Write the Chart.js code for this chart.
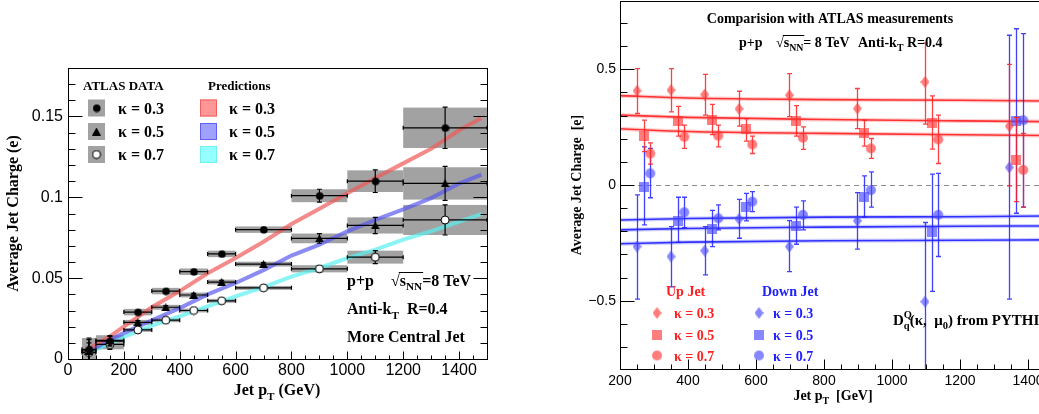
<!DOCTYPE html>
<html>
<head>
<meta charset="utf-8">
<script src="https://cdn.jsdelivr.net/npm/chart.js@4.4.1/dist/chart.umd.min.js"></script>
<style>
  html, body { margin: 0; padding: 0; background: #fff; overflow: hidden; width: 1039px; height: 414px; }
  #c1 { position: absolute; left: 0; top: 0; }
  #c2 { position: absolute; left: 560px; top: 0; }
</style>
</head>
<body>
<canvas id="c1" width="520" height="414"></canvas>
<canvas id="c2" width="500" height="414"></canvas>
<script>
// ---------- left panel: ATLAS data vs predictions ----------
const BIN_LO    = [50, 100, 200, 300, 400, 500, 600, 800, 1000, 1200];
const BIN_HI    = [100, 200, 300, 400, 500, 600, 800, 1000, 1200, 1500];
const PT_CENTER = [75, 150, 250, 350, 450, 550, 700, 900, 1100, 1350];

const K03      = [0.006, 0.011, 0.029, 0.042, 0.054, 0.065, 0.080, 0.101, 0.110, 0.143];
const K03_STAT = [0.007, 0.003, 0.001, 0.001, 0.001, 0.001, 0.001, 0.004, 0.007, 0.0128];
const K03_SYS  = [0.007, 0.0036, 0.002, 0.002, 0.002, 0.002, 0.002, 0.004, 0.0067, 0.0125];

const K05      = [0.005, 0.0115, 0.0227, 0.032, 0.0396, 0.0476, 0.0587, 0.0746, 0.0826, 0.1086];
const K05_STAT = [0.007, 0.003, 0.001, 0.001, 0.001, 0.001, 0.001, 0.003, 0.005, 0.0105];
const K05_SYS  = [0.006, 0.003, 0.0015, 0.0015, 0.0015, 0.0015, 0.0015, 0.003, 0.005, 0.010];

const K07      = [0.004, 0.009, 0.018, 0.024, 0.030, 0.036, 0.044, 0.0558, 0.063, 0.086];
const K07_STAT = [0.006, 0.003, 0.001, 0.001, 0.001, 0.001, 0.001, 0.002, 0.004, 0.0093];
const K07_SYS  = [0.005, 0.003, 0.0012, 0.0012, 0.0012, 0.0012, 0.0012, 0.0022, 0.004, 0.0093];

const PRED_PT  = [60, 100, 150, 200, 300, 400, 500, 600, 700, 800, 900, 1000, 1100, 1200, 1300, 1400, 1480];
const PRED_K03 = [0.004, 0.009, 0.014, 0.020, 0.032, 0.042, 0.053, 0.0625, 0.0725, 0.0835, 0.093, 0.1025, 0.112, 0.121, 0.130, 0.1415, 0.149];
const PRED_K05 = [0.004, 0.007, 0.012, 0.016, 0.024, 0.0315, 0.040, 0.047, 0.055, 0.064, 0.0707, 0.079, 0.086, 0.0925, 0.0995, 0.1085, 0.114];
const PRED_K07 = [0.004, 0.006, 0.0095, 0.0136, 0.0206, 0.0264, 0.0326, 0.0387, 0.0445, 0.051, 0.0563, 0.0624, 0.0676, 0.0738, 0.079, 0.085, 0.0896];

const X_TICKS_L  = [0, 200, 400, 600, 800, 1000, 1200, 1400];
const Y_TICKS_L  = [0, 0.05, 0.1, 0.15];
const Y_LABELS_L = ["0", "0.05", "0.1", "0.15"];

// ---------- right panel: up / down jet charge ----------
const R_PT_K03 = [250, 350, 449, 550, 698, 898, 1097, 1345];
const R_PT_K05 = [270, 370, 470, 570, 719, 918, 1117, 1366];
const R_PT_K07 = [289, 389, 489, 589, 738, 938, 1136, 1386];

const UP_K03    = [0.407, 0.41, 0.391, 0.329, 0.388, 0.33, 0.445, 0.254];
const UP_K03_HI = [0.503, 0.503, 0.478, 0.405, 0.481, 0.417, 0.613, 0.521];
const UP_K03_LO = [0.309, 0.316, 0.302, 0.254, 0.295, 0.244, 0.263, -0.004];
const UP_K05    = [0.213, 0.276, 0.283, 0.241, 0.277, 0.226, 0.269, 0.108];
const UP_K05_HI = [0.28, 0.34, 0.348, 0.287, 0.343, 0.28, 0.385, 0.292];
const UP_K05_LO = [0.144, 0.211, 0.218, 0.19, 0.211, 0.168, 0.155, -0.072];
const UP_K07    = [0.136, 0.208, 0.213, 0.175, 0.204, 0.158, 0.197, 0.065];
const UP_K07_HI = [0.182, 0.259, 0.259, 0.211, 0.251, 0.201, 0.302, 0.223];
const UP_K07_LO = [0.09, 0.158, 0.165, 0.136, 0.154, 0.115, 0.093, -0.096];

const DN_K03    = [-0.266, -0.309, -0.284, -0.147, -0.266, -0.155, -0.504, 0.076];
const DN_K03_HI = [-0.043, -0.18, -0.18, -0.062, -0.154, -0.033, -0.162, 0.647];
const DN_K03_LO = [-0.493, -0.44, -0.388, -0.23, -0.374, -0.277, -0.82, -0.493];
const DN_K05    = [-0.007, -0.154, -0.191, -0.096, -0.175, -0.05, -0.204, 0.277];
const DN_K05_HI = [0.165, -0.053, -0.11, -0.036, -0.096, 0.039, 0.047, 0.675];
const DN_K05_LO = [-0.172, -0.248, -0.266, -0.155, -0.256, -0.139, -0.46, -0.122];
const DN_K07    = [0.05, -0.118, -0.144, -0.072, -0.129, -0.022, -0.129, 0.28];
const DN_K07_HI = [0.158, -0.053, -0.086, -0.029, -0.069, 0.057, 0.05, 0.654];
const DN_K07_LO = [-0.055, -0.184, -0.194, -0.115, -0.194, -0.096, -0.309, -0.096];

const R_LINE_PT = [200, 400, 800, 1200, 1450];
const UP_L1 = [0.386, 0.376, 0.369, 0.366, 0.363];
const UP_L2 = [0.302, 0.292, 0.283, 0.277, 0.274];
const UP_L3 = [0.243, 0.231, 0.223, 0.217, 0.214];
const DN_L1 = [-0.151, -0.145, -0.139, -0.137, -0.134];
const DN_L2 = [-0.194, -0.188, -0.182, -0.178, -0.177];
const DN_L3 = [-0.254, -0.247, -0.241, -0.239, -0.237];

const X_TICKS_R  = [200, 400, 600, 800, 1000, 1200, 1400];
const Y_TICKS_R  = [-0.5, 0, 0.5];
const Y_LABELS_R = ["\u22120.5", "0", "0.5"];

const SERIF = '"Liberation Serif", "Times New Roman", serif';
const SANS  = '"Liberation Sans", Arial, sans-serif';

const RED_M  = "rgba(255,55,55,0.65)";
const BLUE_M = "rgba(70,70,255,0.65)";
const RED_E  = "rgba(255,30,30,0.85)";
const BLUE_E = "rgba(30,30,255,0.85)";

// ---------- marker images ----------
function img(w, h, draw) {
  const c = document.createElement("canvas");
  c.width = w; c.height = h;
  draw(c.getContext("2d"), w, h);
  return c;
}
const dot = (fill, stroke, r) => img(2 * r + 2, 2 * r + 2, (g, w, h) => {
  g.beginPath(); g.arc(w / 2, h / 2, r, 0, Math.PI * 2);
  if (fill) { g.fillStyle = fill; g.fill(); }
  if (stroke) { g.strokeStyle = stroke; g.lineWidth = 1; g.stroke(); }
});
const tri = (fill, w0, h0) => img(w0, h0, (g, w, h) => {
  g.fillStyle = fill; g.beginPath();
  g.moveTo(w / 2, 0); g.lineTo(w, h); g.lineTo(0, h); g.closePath(); g.fill();
});
const diam = (fill, w0, h0) => img(w0, h0, (g, w, h) => {
  g.fillStyle = fill; g.beginPath();
  g.moveTo(w / 2, 0); g.lineTo(w, h / 2); g.lineTo(w / 2, h); g.lineTo(0, h / 2); g.closePath(); g.fill();
});
const sq = (fill, s) => img(s, s, (g, w, h) => { g.fillStyle = fill; g.fillRect(0, 0, w, h); });

const M_K03 = dot("#000", null, 3.8);
const M_K05 = tri("#000", 9, 8);
const M_K07 = dot("#fff", "#000", 4);
const UP_D = diam(RED_M, 9, 12),  UP_S = sq(RED_M, 10),  UP_C = dot(RED_M, null, 5);
const DN_D = diam(BLUE_M, 9, 12), DN_S = sq(BLUE_M, 10), DN_C = dot(BLUE_M, null, 5);

// ---------- text with sub / superscripts ----------
function rich(ctx, x, y, parts, size, color, align) {
  const setF = (s) => { ctx.font = `bold ${s}px ${SERIF}`; };
  const items = parts.map((p) => {
    const s = p.sub || p.sup ? size * 0.7 : size;
    setF(s);
    return Object.assign({}, p, { s, w: ctx.measureText(p.t).width });
  });
  const total = items.reduce((a, p) => a + (p.stack ? 0 : p.w), 0);
  let cx = align === "center" ? x - total / 2 : x;
  ctx.save();
  ctx.fillStyle = color; ctx.strokeStyle = color;
  ctx.textAlign = "left"; ctx.textBaseline = "alphabetic";
  let olA = null, olB = null;
  for (const p of items) {
    setF(p.s);
    const dy = p.sub ? size * 0.3 : p.sup ? -size * 0.42 : 0;
    if (p.ol) { if (olA === null) olA = cx; olB = cx + p.w; }
    ctx.fillText(p.t, cx, y + dy);
    if (!p.stack) cx += p.w;
  }
  if (olA !== null) {
    ctx.lineWidth = 1;
    ctx.beginPath();
    ctx.moveTo(olA - 1, Math.round(y - size * 0.82) + 0.5);
    ctx.lineTo(olB + 1, Math.round(y - size * 0.82) + 0.5);
    ctx.stroke();
  }
  ctx.restore();
}

// ---------- frame with inner ticks ----------
const framePlugin = {
  id: "frame",
  afterDatasetsDraw(chart, args, o) {
    const { ctx, chartArea: a, scales: { x, y } } = chart;
    const L = Math.round(a.left) + 0.5, R = Math.round(a.right) + 0.5;
    const T = Math.round(a.top) + 0.5, B = Math.round(a.bottom) + 0.5;
    ctx.save();
    ctx.strokeStyle = "#000"; ctx.lineWidth = 1;
    ctx.strokeRect(L, T, R - L, B - T);
    ctx.beginPath();
    const isMajor = (v, m) => Math.abs(v / m - Math.round(v / m)) < 1e-6;
    for (let v = o.x[0]; v <= o.x[1] + 1e-9; v += o.x[3]) {
      const px = Math.round(x.getPixelForValue(v)) + 0.5;
      const len = isMajor(v, o.x[2]) ? o.xLen[0] : o.xLen[1];
      ctx.moveTo(px, B); ctx.lineTo(px, B - len);
    }
    for (let v = o.y[0]; v <= o.y[1] + 1e-9; v += o.y[3]) {
      const py = Math.round(y.getPixelForValue(v)) + 0.5;
      const len = isMajor(v, o.y[2]) ? o.yLen[0] : o.yLen[1];
      ctx.moveTo(L, py); ctx.lineTo(L + len, py);
      if (o.right) { ctx.moveTo(R, py); ctx.lineTo(R - len, py); }
    }
    ctx.stroke();
    ctx.restore();
  },
};

// ---------- left panel decorations ----------
const leftPlugin = {
  id: "leftDecor",
  beforeDatasetsDraw(chart) {
    const { ctx, chartArea: a, scales: { x, y } } = chart;
    ctx.save();
    ctx.beginPath(); ctx.rect(a.left, a.top, a.right - a.left, a.bottom - a.top); ctx.clip();
    ctx.fillStyle = "#a2a2a2";
    [[K03, K03_SYS], [K05, K05_SYS], [K07, K07_SYS]].forEach(([vals, sys]) => {
      vals.forEach((v, i) => {
        const x0 = x.getPixelForValue(BIN_LO[i]), x1 = x.getPixelForValue(BIN_HI[i]);
        const y0 = y.getPixelForValue(v + sys[i]), y1 = y.getPixelForValue(v - sys[i]);
        ctx.fillRect(x0, y0, x1 - x0, y1 - y0);
      });
    });
    ctx.restore();
  },
  beforeDatasetDraw(chart, args) {
    const ds = chart.data.datasets[args.index];
    if (!ds.stat) return;
    const { ctx, chartArea: a, scales: { x, y } } = chart;
    ctx.save();
    ctx.beginPath(); ctx.rect(a.left, a.top, a.right - a.left, a.bottom - a.top); ctx.clip();
    ctx.strokeStyle = "#000"; ctx.lineWidth = 1.2;
    ctx.beginPath();
    ds.data.forEach((p, i) => {
      const py = y.getPixelForValue(p.y), px = x.getPixelForValue(p.x);
      const x0 = x.getPixelForValue(BIN_LO[i]), x1 = x.getPixelForValue(BIN_HI[i]);
      ctx.moveTo(x0, py); ctx.lineTo(x1, py);
      ctx.moveTo(x0, py - 2); ctx.lineTo(x0, py + 2);
      ctx.moveTo(x1, py - 2); ctx.lineTo(x1, py + 2);
      const ya = y.getPixelForValue(p.y + ds.stat[i]), yb = y.getPixelForValue(p.y - ds.stat[i]);
      ctx.moveTo(px, ya); ctx.lineTo(px, yb);
      ctx.moveTo(px - 2.5, ya); ctx.lineTo(px + 2.5, ya);
      ctx.moveTo(px - 2.5, yb); ctx.lineTo(px + 2.5, yb);
    });
    ctx.stroke();
    ctx.restore();
  },
  afterDraw(chart) {
    const { ctx } = chart;
    // legend
    rich(ctx, 83, 89.5, [{ t: "ATLAS DATA" }], 13, "#000");
    rich(ctx, 208, 89.5, [{ t: "Predictions" }], 13, "#000");
    const rowsY = [108, 131.5, 154.5];
    const kappa = ["\u03ba = 0.3", "\u03ba = 0.5", "\u03ba = 0.7"];
    const marks = [M_K03, M_K05, M_K07];
    const fills = ["rgba(255,150,150,1)", "rgba(160,160,255,1)", "rgba(150,255,255,1)"];
    const edges = ["#f06060", "#6060f0", "#70f0f0"];
    rowsY.forEach((cy, i) => {
      ctx.fillStyle = "#a2a2a2";
      ctx.fillRect(88, cy - 8.5, 17, 17);
      ctx.drawImage(marks[i], 96.5 - marks[i].width / 2, cy - marks[i].height / 2);
      rich(ctx, 118, cy + 5.5, [{ t: kappa[i] }], 16, "#000");
      ctx.fillStyle = fills[i]; ctx.strokeStyle = edges[i]; ctx.lineWidth = 1;
      ctx.fillRect(200, cy - 8.5, 17, 17);
      ctx.strokeRect(200.5, cy - 8, 16, 16);
      rich(ctx, 229, cy + 5.5, [{ t: kappa[i] }], 16, "#000");
    });
    // annotations
    rich(ctx, 347, 285.5, [{ t: "p+p" }], 16, "#000");
    rich(ctx, 391, 285.5, [{ t: "\u221a" }, { t: "s", ol: true }, { t: "NN", sub: true, ol: true }, { t: "=8 TeV" }], 16, "#000");
    rich(ctx, 347, 314, [{ t: "Anti-k" }, { t: "T", sub: true }, { t: "  R=0.4" }], 16, "#000");
    rich(ctx, 347, 342, [{ t: "More Central Jet" }], 16, "#000");
    // x-axis title
    rich(ctx, 277, 395, [{ t: "Jet p" }, { t: "T", sub: true }, { t: " (GeV)" }], 16, "#000", "center");
  },
};

// ---------- right panel decorations ----------
const rightPlugin = {
  id: "rightDecor",
  beforeDatasetsDraw(chart) {
    const { ctx, chartArea: a, scales: { x, y } } = chart;
    const py = Math.round(y.getPixelForValue(0)) + 0.5;
    ctx.save();
    ctx.strokeStyle = "#8a8a8a"; ctx.lineWidth = 1; ctx.setLineDash([5, 4]);
    ctx.beginPath(); ctx.moveTo(a.left, py); ctx.lineTo(a.right, py); ctx.stroke();
    ctx.restore();
  },
  beforeDatasetDraw(chart, args) {
    const ds = chart.data.datasets[args.index];
    if (!ds.hi) return;
    const { ctx, chartArea: a, scales: { x, y } } = chart;
    ctx.save();
    ctx.beginPath(); ctx.rect(a.left, a.top, a.right - a.left, a.bottom - a.top); ctx.clip();
    ctx.strokeStyle = ds.errColor; ctx.lineWidth = 1.3;
    ctx.beginPath();
    ds.data.forEach((p, i) => {
      const px = Math.round(x.getPixelForValue(p.x)) + 0.5;
      const ya = y.getPixelForValue(ds.hi[i]), yb = y.getPixelForValue(ds.lo[i]);
      ctx.moveTo(px, ya); ctx.lineTo(px, yb);
      ctx.moveTo(px - 2.5, ya); ctx.lineTo(px + 2.5, ya);
      ctx.moveTo(px - 2.5, yb); ctx.lineTo(px + 2.5, yb);
    });
    ctx.stroke();
    ctx.restore();
  },
  afterDraw(chart) {
    const { ctx } = chart;
    const ox = -560; // page -> canvas
    rich(ctx, 830 + ox, 23, [{ t: "Comparision with ATLAS measurements" }], 14, "#000", "center");
    rich(ctx, 739 + ox, 46.5, [{ t: "p+p" }], 14, "#000");
    rich(ctx, 776 + ox, 46.5, [{ t: "\u221a" }, { t: "s", ol: true }, { t: "NN", sub: true, ol: true }, { t: "= 8 TeV" }], 14, "#000");
    rich(ctx, 858 + ox, 46.5, [{ t: "Anti-k" }, { t: "T", sub: true }, { t: " R=0.4" }], 14, "#000");

    const red = "#ff2020", blue = "#2020ff";
    rich(ctx, 666 + ox, 295.5, [{ t: "Up Jet" }], 14, red);
    rich(ctx, 762 + ox, 295.5, [{ t: "Down Jet" }], 14, blue);
    const rowsY = [313, 334.5, 355.5];
    const kappa = ["\u03ba = 0.3", "\u03ba = 0.5", "\u03ba = 0.7"];
    const upM = [UP_D, UP_S, UP_C], dnM = [DN_D, DN_S, DN_C];
    rowsY.forEach((cy, i) => {
      ctx.drawImage(upM[i], 657 + ox - upM[i].width / 2, cy - upM[i].height / 2);
      rich(ctx, 674 + ox, cy + 5, [{ t: kappa[i] }], 14, red);
      ctx.drawImage(dnM[i], 759 + ox - dnM[i].width / 2, cy - dnM[i].height / 2);
      rich(ctx, 773 + ox, cy + 5, [{ t: kappa[i] }], 14, blue);
    });
    rich(ctx, 893 + ox, 324.5, [
      { t: "D" }, { t: "Q", sup: true, stack: true }, { t: "q", sub: true },
      { t: "(\u03ba,  \u03bc" }, { t: "0", sub: true }, { t: ") from PYTHIA" },
    ], 15, "#000");
    rich(ctx, 833 + ox, 400, [{ t: "Jet p" }, { t: "T", sub: true }, { t: "  [GeV]" }], 14, "#000", "center");
  },
};

function axisCommon(size) {
  return {
    type: "linear",
    grid: { display: false, drawTicks: false },
    border: { display: false },
    ticks: { font: { family: SANS, size }, color: "#000", autoSkip: false, maxRotation: 0 },
  };
}
const toPts = (xs, ys) => xs.map((x, i) => ({ x, y: ys[i] }));
// pin axis boxes so the plot frame lands where the reference has it
const fixH = (h) => (s) => { s.height = h; s.paddingLeft = 0; s.paddingRight = 0; };
const fixW = (w) => (s) => { s.width = w; s.paddingTop = 0; s.paddingBottom = 0; };

// ---------- left chart ----------
const predLine = (vals, color) => ({
  type: "line", data: toPts(PRED_PT, vals), borderColor: color, borderWidth: 4,
  pointRadius: 0, fill: false, order: 3,
});
const dataPts = (vals, stat, style) => ({
  type: "scatter", data: toPts(PT_CENTER, vals), stat, pointStyle: style,
  pointRadius: 4, order: 1, clip: false,
});

const lx = axisCommon(16), ly = axisCommon(16);
new Chart(document.getElementById("c1"), {
  type: "scatter",
  data: {
    datasets: [
      predLine(PRED_K03, "rgba(240,90,90,0.7)"),
      predLine(PRED_K05, "rgba(90,90,240,0.7)"),
      predLine(PRED_K07, "rgba(90,240,240,0.7)"),
      dataPts(K03, K03_STAT, M_K03),
      dataPts(K05, K05_STAT, M_K05),
      dataPts(K07, K07_STAT, M_K07),
    ],
  },
  options: {
    responsive: false, animation: false, events: [],
    layout: { autoPadding: false, padding: { left: 0, top: 68, right: 33, bottom: 0 } },
    plugins: {
      legend: { display: false }, tooltip: { enabled: false },
      frame: { x: [0, 1500, 200, 50], y: [0, 0.18, 0.05, 0.01], xLen: [8, 4], yLen: [14, 7], right: true },
    },
    scales: {
      x: Object.assign(lx, {
        min: 0, max: 1500,
        afterFit: fixH(55),
        afterBuildTicks: (s) => { s.ticks = X_TICKS_L.map((v) => ({ value: v })); },
        ticks: Object.assign(lx.ticks, { padding: 2, callback: (v) => String(v) }),
      }),
      y: Object.assign(ly, {
        min: 0, max: 0.18,
        afterFit: fixW(68),
        afterBuildTicks: (s) => { s.ticks = Y_TICKS_L.map((v) => ({ value: v })); },
        ticks: Object.assign(ly.ticks, { padding: 5, callback: (v) => Y_LABELS_L[Y_TICKS_L.indexOf(v)] }),
        title: {
          display: true, text: "Average Jet Charge (e)", color: "#000",
          font: { family: SERIF, size: 16, weight: "bold" }, padding: { top: 4, bottom: 0 },
        },
      }),
    },
  },
  plugins: [leftPlugin, framePlugin],
});

// ---------- right chart ----------
const fitLine = (vals, color, width) => ({
  type: "line", data: toPts(R_LINE_PT, vals), borderColor: color, borderWidth: width,
  pointRadius: 0, fill: false, cubicInterpolationMode: "monotone", order: 3,
});
const upDn = (xs, vals, hi, lo, style, errColor) => ({
  type: "scatter", data: toPts(xs, vals), hi, lo, errColor, pointStyle: style,
  pointRadius: 5, order: 1,
});

const rx = axisCommon(14), ry = axisCommon(14);
const lineSets = [];
[UP_L1, UP_L2, UP_L3].forEach((v) => {
  lineSets.push(fitLine(v, "rgba(255,90,90,0.3)", 4));
  lineSets.push(fitLine(v, "rgba(255,20,20,0.95)", 1.6));
});
[DN_L1, DN_L2, DN_L3].forEach((v) => {
  lineSets.push(fitLine(v, "rgba(90,90,255,0.3)", 4));
  lineSets.push(fitLine(v, "rgba(20,20,255,0.95)", 1.6));
});

new Chart(document.getElementById("c2"), {
  type: "scatter",
  data: {
    datasets: lineSets.concat([
      upDn(R_PT_K03, UP_K03, UP_K03_HI, UP_K03_LO, UP_D, RED_E),
      upDn(R_PT_K05, UP_K05, UP_K05_HI, UP_K05_LO, UP_S, RED_E),
      upDn(R_PT_K07, UP_K07, UP_K07_HI, UP_K07_LO, UP_C, RED_E),
      upDn(R_PT_K03, DN_K03, DN_K03_HI, DN_K03_LO, DN_D, BLUE_E),
      upDn(R_PT_K05, DN_K05, DN_K05_HI, DN_K05_LO, DN_S, BLUE_E),
      upDn(R_PT_K07, DN_K07, DN_K07_HI, DN_K07_LO, DN_C, BLUE_E),
    ]),
  },
  options: {
    responsive: false, animation: false, events: [],
    layout: { autoPadding: false, padding: { left: 0, top: 1, right: 15, bottom: 0 } },
    plugins: {
      legend: { display: false }, tooltip: { enabled: false },
      frame: { x: [200, 1450, 200, 50], y: [-0.7, 0.7, 0.5, 0.1], xLen: [10, 5], yLen: [14, 7], right: false },
    },
    scales: {
      x: Object.assign(rx, {
        min: 200, max: 1450,
        afterFit: fixH(45),
        afterBuildTicks: (s) => { s.ticks = X_TICKS_R.map((v) => ({ value: v })); },
        ticks: Object.assign(rx.ticks, { padding: 4, callback: (v) => String(v) }),
      }),
      y: Object.assign(ry, {
        min: -0.795, max: 0.795,
        afterFit: fixW(60),
        afterBuildTicks: (s) => { s.ticks = Y_TICKS_R.map((v) => ({ value: v })); },
        ticks: Object.assign(ry.ticks, { padding: 4, callback: (v) => Y_LABELS_R[Y_TICKS_R.indexOf(v)] }),
        title: {
          display: true, text: "Average Jet Charge  [e]", color: "#000",
          font: { family: SERIF, size: 14, weight: "bold" }, padding: { top: 8.5, bottom: 0 },
        },
      }),
    },
  },
  plugins: [rightPlugin, framePlugin],
});
</script>
</body>
</html>
